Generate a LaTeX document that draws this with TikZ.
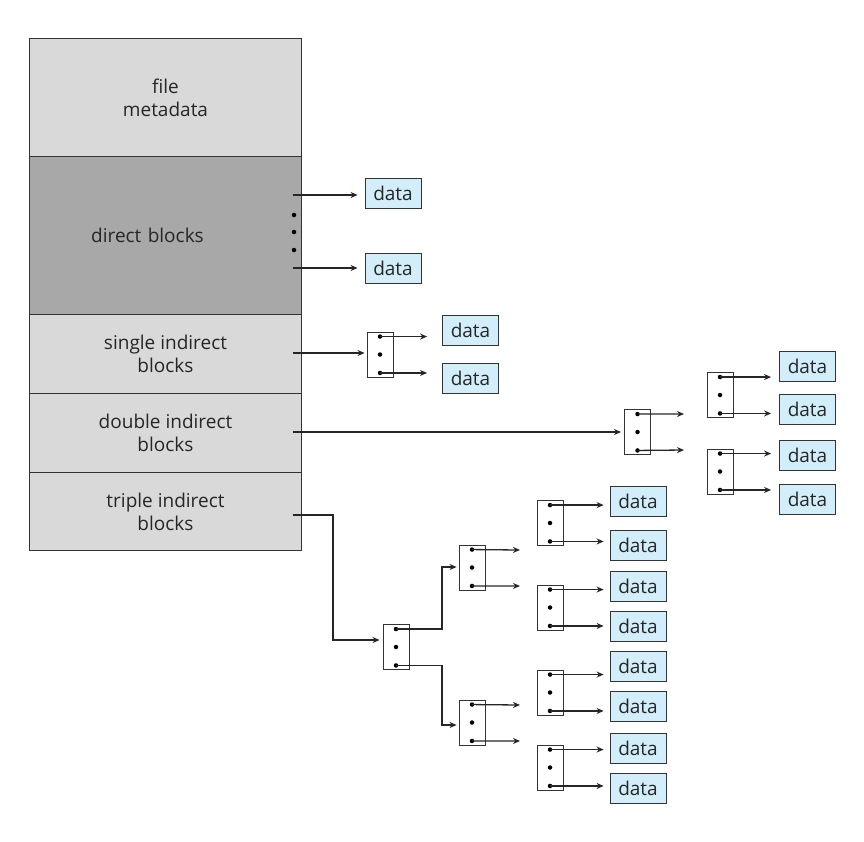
\documentclass[tikz,border=0pt]{standalone}
\usepackage{fontspec}
\setmainfont{Open Sans}
\usetikzlibrary{arrows.meta}
\definecolor{lightg}{HTML}{D9D9D9}
\definecolor{darkg}{HTML}{A8A8A8}
\definecolor{datab}{HTML}{D2EEFA}
\tikzset{
  every node/.style={font=\fontsize{19}{23}\selectfont, text=black!85},
  seg/.style={draw=black!80, line width=1pt, minimum width=272pt, anchor=north west, inner sep=0pt, align=center},
  data/.style={draw=black!80, fill=datab, line width=0.8pt, minimum width=56pt, minimum height=30pt, inner sep=0pt},
  blk/.style={draw=black!80, line width=0.9pt, minimum width=26pt, minimum height=45pt, inner sep=0pt},
  dot/.style={circle, fill=black, inner sep=0pt, minimum size=4.5pt},
  ar/.style={line width=1.3pt, draw=black!85, -{Stealth[length=7pt,width=6pt]}},
  ln/.style={line width=1.3pt, draw=black!85},
}
\newcommand{\idxblk}[3]{%
  \node[blk] (#1) at (#2,#3) {};
  \node[dot] (#1-t) at ([yshift=-5pt]#1.north) {};
  \node[dot] (#1-m) at (#1.center) {};
  \node[dot] (#1-b) at ([yshift=4.5pt]#1.south) {};
}
\begin{document}
\begin{tikzpicture}[x=1pt,y=-1pt]
\useasboundingbox (0,0) rectangle (864,841);
% main column
\node[seg, fill=lightg, minimum height=118pt] (meta) at (29,38) {file\\metadata};
\node[seg, fill=darkg, minimum height=158pt, text width=200pt, xshift=0pt] (direct) at (29,156) {\hspace*{-36pt}direct blocks};
\node[seg, fill=lightg, minimum height=79pt] (single) at (29,314) {single indirect\\blocks};
\node[seg, fill=lightg, minimum height=79pt] (double) at (29,393) {double indirect\\blocks};
\node[seg, fill=lightg, minimum height=78pt] (triple) at (29,472) {triple indirect\\blocks};
% direct
\coordinate (dA) at (293,195);
\coordinate (dB) at (293,268);
\node[dot] (dd1) at (294,215) {};
\node[dot] (dd2) at (294,232) {};
\node[dot] (dd3) at (294,250) {};
\node[data] (D1) at (393,193) {data};
\node[data] (D2) at (393,268) {data};
\draw[ar, shorten >=7pt] (dA) -- (D1.west|-dA);
\draw[ar, shorten >=7pt] (dB) -- (D2.west|-dB);
% single
\coordinate (sA) at (293,353);
\idxblk{S}{380}{354.5}
\draw[ar, shorten >=2pt] (sA) -- (S.west|-sA);
\node[data] (S1) at (470.5,330) {data};
\node[data] (S2) at (470.5,378) {data};
\draw[ar, shorten >=15pt] (S-t.center) -- (S1.west|-S-t);
\draw[ar, shorten >=15pt] (S-b.center) -- (S2.west|-S-b);
% double
\coordinate (dbA) at (293,432);
\idxblk{DB}{637.5}{432}
\draw[ar, shorten >=3pt] (dbA) -- (DB.west|-dbA);
\coordinate (e1) at (684,414);
\coordinate (e2) at (684,450);
\draw[ar] (DB-t.center) -- (e1);
\draw[ar] (DB-b.center) -- (e2);
\idxblk{DBa}{720}{395}
\idxblk{DBb}{720}{471.5}
\node[data] (DD1) at (807.5,366) {data};
\node[data] (DD2) at (807.5,409.5) {data};
\node[data] (DD3) at (807.5,455.5) {data};
\node[data] (DD4) at (807.5,499.5) {data};
\foreach \b/\p/\q in {DBa/DD1/DD2, DBb/DD3/DD4}{
  \draw[ar, shorten >=8pt] (\b-t.center) -- (\p.west|-\b-t);
  \draw[ar, shorten >=8pt] (\b-b.center) -- (\q.west|-\b-b);
}
% triple
\coordinate (tA) at (293,515);
\idxblk{T}{396}{647}
\draw[ar, shorten >=3pt] (tA) -| (333,640) -- (T.west|-0,640);
\idxblk{Ta}{472}{567.5}
\idxblk{Tb}{472}{722.5}
\draw[ar, shorten >=2pt] (T-t.center) -| (442,567) -- (Ta.west|-0,567);
\draw[ar, shorten >=2pt] (T-b.center) -| (442,725) -- (Tb.west|-0,725);
\coordinate (f1) at (520,550);
\coordinate (f2) at (520,586);
\coordinate (f3) at (520,705);
\coordinate (f4) at (520,741);
\draw[ar] (Ta-t.center) -- (f1);
\draw[ar] (Ta-b.center) -- (f2);
\draw[ar] (Tb-t.center) -- (f3);
\draw[ar] (Tb-b.center) -- (f4);
\idxblk{Tc}{550}{523}
\idxblk{Td}{550}{607.5}
\idxblk{Te}{550}{692.5}
\idxblk{Tf}{550}{767.5}
\node[data] (T1) at (638,501) {data};
\node[data] (T2) at (638,545) {data};
\node[data] (T3) at (638,586) {data};
\node[data] (T4) at (638,626) {data};
\node[data] (T5) at (638,666) {data};
\node[data] (T6) at (638,706) {data};
\node[data] (T7) at (638,748) {data};
\node[data] (T8) at (638,788) {data};
\foreach \b/\p/\q in {Tc/T1/T2, Td/T3/T4, Te/T5/T6, Tf/T7/T8}{
  \draw[ar, shorten >=6pt] (\b-t.center) -- (\p.west|-\b-t);
  \draw[ar, shorten >=6pt] (\b-b.center) -- (\q.west|-\b-b);
}
\end{tikzpicture}
\end{document}
